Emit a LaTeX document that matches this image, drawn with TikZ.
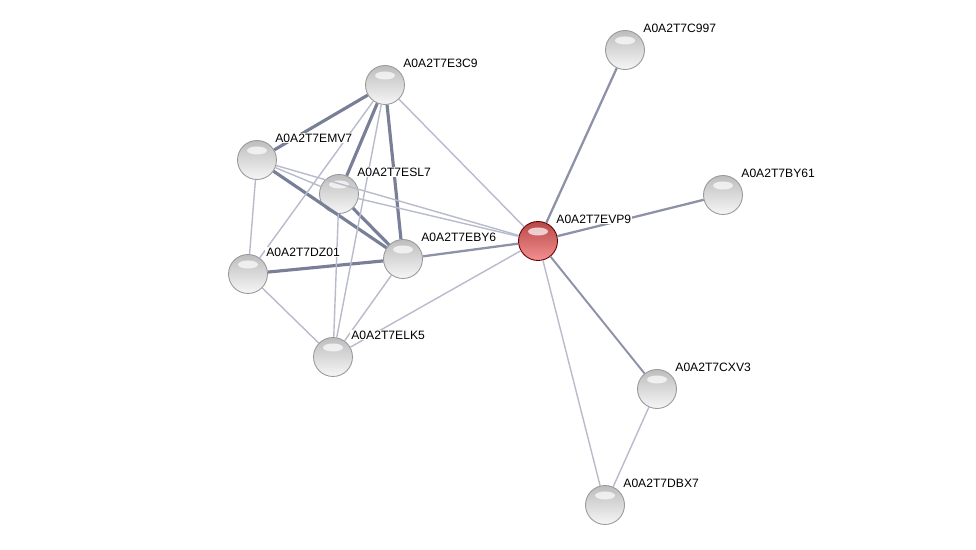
\documentclass[tikz,border=0pt]{standalone}
\usepackage{fontspec}
\setmainfont{Liberation Sans}
\usepackage{tikz}
\usetikzlibrary{positioning}
\usepackage{xcolor}

\definecolor{edgestrong}{HTML}{7A7F98}
\definecolor{edgemid}{HTML}{8E92A8}
\definecolor{edgeweak}{HTML}{B8BBCC}
\definecolor{balltop}{HTML}{BDBDBD}
\definecolor{ballbot}{HTML}{F6F6F6}
\definecolor{redtop}{HTML}{B84848}
\definecolor{redbot}{HTML}{F49090}

\begin{document}
\begin{tikzpicture}[x=0.02cm, y=-0.02cm,
    protein/.style={circle, minimum size=39*0.02cm, inner sep=0pt, top color=balltop, bottom color=ballbot,
        draw=gray!80, line width=0.5pt,
        path picture={\fill[white, opacity=0.7] ([yshift=-0.2cm]path picture bounding box.north) ellipse (0.2cm and 0.08cm);}},
    query/.style={protein, top color=redtop, bottom color=redbot, draw=red!40!black},
    lbl/.style={anchor=west, fill=white, inner sep=0.6pt, font=\fontsize{6.9}{8}\selectfont},
    strong/.style={draw=edgestrong, line width=1.8pt},
    mid/.style={draw=edgemid, line width=1.3pt},
    weak/.style={draw=edgeweak, line width=0.8pt}]
    \useasboundingbox (0,0) rectangle (976,550);

    % proteins
    \foreach \n/\x/\y/\s in {e3c9/385/85/protein, emv7/257/160/protein,
        esl7/339/194/protein, eby6/403/259/protein,
        dz01/248/274/protein, elk5/333/357/protein,
        evp9/538/241/query, c997/625/50/protein,
        by61/723/195/protein, cxv3/657/389/protein,
        dbx7/605/505/protein} {
        \node[\s] (\n) at (\x,\y) {};
    }

    % interactions
    \foreach \a/\b in {e3c9/emv7, e3c9/esl7, e3c9/eby6, emv7/eby6, esl7/eby6, eby6/dz01} {
        \draw[strong] (\a) -- (\b);
    }
    \foreach \a/\b in {evp9/c997, evp9/by61, evp9/eby6} {
        \draw[mid] (\a) -- (\b);
    }
    \draw[mid, line width=1.1pt] (evp9) -- (cxv3);
    \foreach \a/\b in {e3c9/dz01, e3c9/elk5, e3c9/evp9, emv7/esl7, emv7/evp9, emv7/dz01,
        esl7/elk5, esl7/evp9, eby6/elk5, dz01/elk5, elk5/evp9, evp9/dbx7, cxv3/dbx7} {
        \draw[weak] (\a) -- (\b);
    }

    % labels
    \foreach \n/\t in {e3c9/A0A2T7E3C9, emv7/A0A2T7EMV7, esl7/A0A2T7ESL7, eby6/A0A2T7EBY6,
        dz01/A0A2T7DZ01, elk5/A0A2T7ELK5, evp9/A0A2T7EVP9, c997/A0A2T7C997,
        by61/A0A2T7BY61, cxv3/A0A2T7CXV3, dbx7/A0A2T7DBX7} {
        \node[lbl] (\n-t) at ([shift={(17,-22)}]\n.center) {\t};
    }
\end{tikzpicture}
\end{document}
